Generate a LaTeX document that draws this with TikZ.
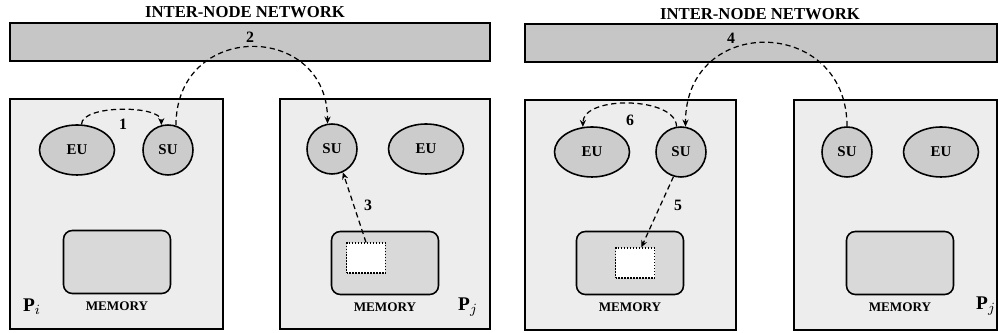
\documentclass[tikz,border=0pt]{standalone}
\usepackage{fontspec}
\setmainfont{Liberation Serif}
\usetikzlibrary{positioning, arrows.meta, shapes.geometric}

\tikzset{
  unit/.style={ellipse, draw, line width=0.9pt, fill=gray!40, inner sep=0pt,
    minimum height=1cm, font=\bfseries\fontsize{8.5}{9}\selectfont},
  eunit/.style={unit, minimum width=1.5cm},
  sunit/.style={unit, minimum width=1cm},
  memory/.style={draw, rounded corners=5pt, line width=0.9pt, fill=gray!30,
    minimum width=2.14cm, minimum height=1.26cm},
  buffer/.style={draw, densely dotted, line width=0.7pt, fill=white,
    minimum width=0.78cm, minimum height=0.6cm},
  memlabel/.style={font=\bfseries\fontsize{7.5}{8}\selectfont, inner sep=1pt},
  msglabel/.style={font=\bfseries\fontsize{9}{10}\selectfont},
  netlabel/.style={font=\bfseries\fontsize{9.5}{10}\selectfont},
  proclabel/.style={font=\fontsize{11}{12}\selectfont},
  msg/.style={densely dashed, line width=0.7pt, -{Stealth[length=4pt, width=3.5pt]}},
  netbar/.style={draw, line width=0.9pt, fill=gray!45},
  procbox/.style={draw, line width=0.9pt, fill=gray!14},
}

\begin{document}
\begin{tikzpicture}[x=0.02cm, y=-0.02cm]
    \useasboundingbox (0,0) rectangle (998,333);

    % left half: request sent from P_i to P_j
    \node[netlabel] (netL) at (245,12) {INTER-NODE NETWORK};
    \filldraw[netbar] (10,23) rectangle (490,61);
    \filldraw[procbox] (10,99) rectangle (223,329);
    \filldraw[procbox] (280,99) rectangle (490,329);

    \node[eunit] (eu1) at (77,150) {EU};
    \node[sunit] (su1) at (168,150) {SU};
    \node[sunit] (su2) at (332,149) {SU};
    \node[eunit] (eu2) at (426,149) {EU};

    \node[memory] (mem1) at (117,262) {};
    \node[memlabel, below=3pt of mem1] (mlab1) {MEMORY};
    \node[memory] (mem2) at (385,263) {};
    \node[buffer] (buf2) at (366,258) {};
    \node[memlabel, below=3pt of mem2] (mlab2) {MEMORY};

    \node[proclabel] (pi) at (32,307) {\textbf{P}$_i$};
    \node[proclabel] (pj1) at (468,307) {\textbf{P}$_j$};

    \draw[msg] (eu1.80) .. controls +(0,-20) and +(0,-20) .. (su1.105);
    \draw[msg] (su1.72) .. controls +(0,-105) and +(0,-102) .. (su2.100);
    \draw[msg] (buf2.north) -- (su2.-65);
    \node[msglabel] (n1) at (123,124) {1};
    \node[msglabel] (n2) at (250,37) {2};
    \node[msglabel] (n3) at (368,205) {3};

    % right half: reply sent back from P_j
    \node[netlabel] (netR) at (760,14) {INTER-NODE NETWORK};
    \filldraw[netbar] (525,24) rectangle (997,62);
    \filldraw[procbox] (525,100) rectangle (736,330);
    \filldraw[procbox] (794,100) rectangle (997,330);

    \node[eunit] (eu3) at (592,152) {EU};
    \node[sunit] (su3) at (681,152) {SU};
    \node[sunit] (su4) at (847,152) {SU};
    \node[eunit] (eu4) at (941,152) {EU};

    \node[memory] (mem3) at (630,263) {};
    \node[buffer] (buf3) at (635,263) {};
    \node[memlabel, below=3pt of mem3] (mlab3) {MEMORY};
    \node[memory] (mem4) at (900,263) {};
    \node[memlabel, below=3pt of mem4] (mlab4) {MEMORY};

    \node[proclabel] (pj2) at (986,306) {\textbf{P}$_j$};

    \draw[msg] (su4.north) .. controls +(0,-110) and +(0,-113) .. (su3.80);
    \draw[msg] (su3.100) .. controls +(0,-30) and +(0,-32) .. (eu3.110);
    \draw[msg] (su3.-107) -- (buf3.68);
    \node[msglabel] (n4) at (731,38) {4};
    \node[msglabel] (n5) at (678,205) {5};
    \node[msglabel] (n6) at (630,120) {6};
\end{tikzpicture}
\end{document}
